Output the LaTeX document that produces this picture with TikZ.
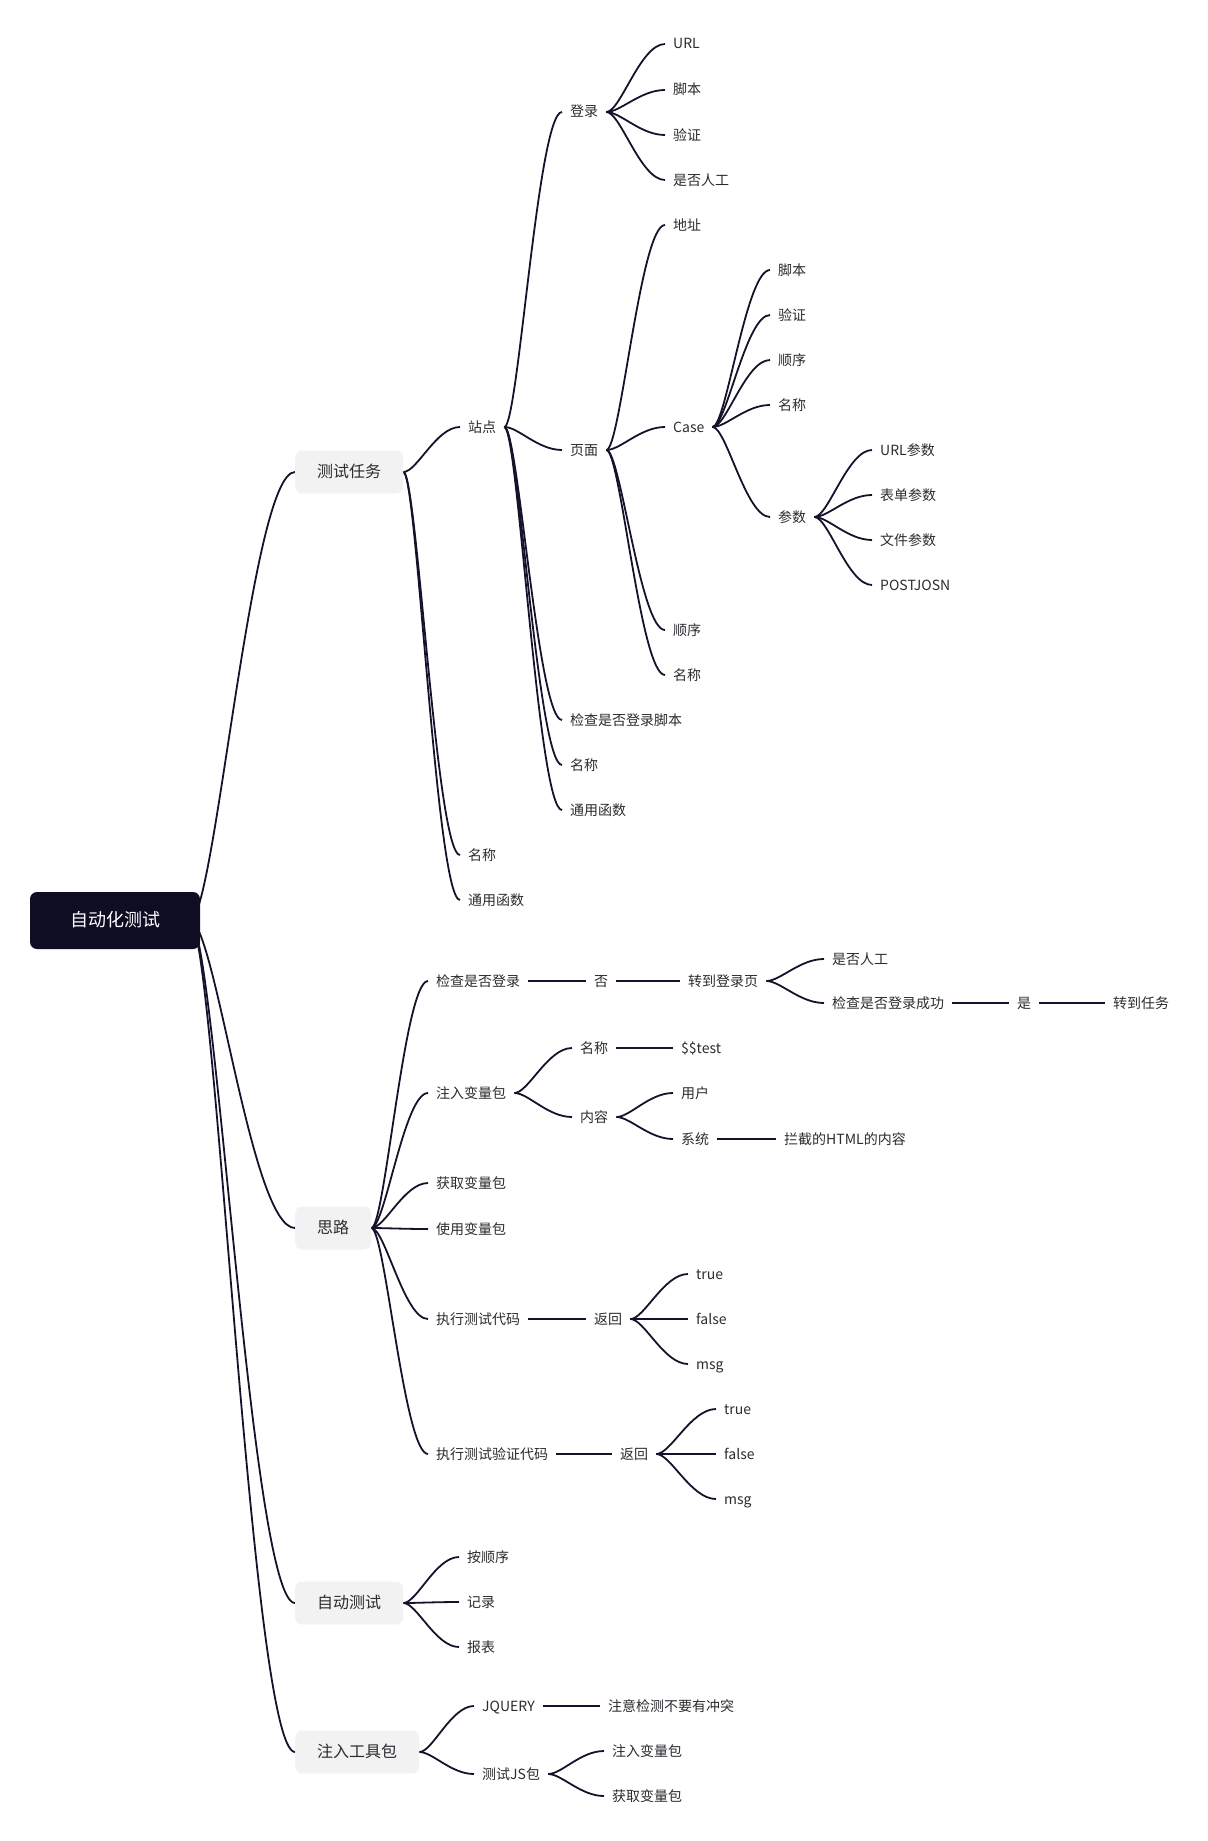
\documentclass[tikz,border=0pt]{standalone}
\usepackage{fontspec}
\setmainfont{Noto Sans CJK SC}
\usetikzlibrary{calc,backgrounds}

\definecolor{inkline}{HTML}{14132B}
\definecolor{inktext}{HTML}{2B2B30}
\definecolor{rootfill}{HTML}{0F0D23}
\definecolor{topicfill}{HTML}{F2F2F3}

\tikzset{
  link/.style={draw=inkline, line width=1.8pt},
  branch/.style={to path={let \p1=(\tikztostart), \p2=(\tikztotarget) in
      .. controls ({\x1+0.24*(\x2-\x1)},\y1) and ({\x1+0.58*(\x2-\x1)},\y2) .. (\tikztotarget)}},
  leaf/.style={anchor=west, inner xsep=8pt, inner ysep=2pt, text=inktext,
      font=\fontsize{14}{17}\selectfont, text height=12pt, text depth=2pt},
  topic/.style={anchor=west, fill=topicfill, rounded corners=7pt, inner xsep=22pt,
      minimum height=43pt, text=inktext, font=\fontsize{16}{19}\selectfont,
      text height=13pt, text depth=2.5pt},
  central/.style={fill=rootfill, rounded corners=7pt, inner xsep=40pt,
      minimum height=57pt, text=white, font=\fontsize{18}{21}\selectfont,
      text height=15pt, text depth=3pt},
}

\begin{document}
\begin{tikzpicture}[x=1pt,y=-1pt]
  \useasboundingbox (0,0) rectangle (1207,1841);

  %% root
  \node[central] (root) at (115,920.5) {自动化测试};
  \coordinate (rootout) at (190,920.5);

  %% main topics
  \node[topic] (task) at (295,472) {测试任务};
  \node[topic] (idea) at (295,1228) {思路};
  \node[topic] (auto) at (295,1603) {自动测试};
  \node[topic] (tool) at (295,1752) {注入工具包};

  %% 测试任务
  \node[leaf] (site) at (460,427) {站点};
  \node[leaf] (tname) at (460,855) {名称};
  \node[leaf] (tfunc) at (460,900) {通用函数};

  \node[leaf] (login) at (562,112) {登录};
  \node[leaf] (page) at (562,450) {页面};
  \node[leaf] (chkscript) at (562,720) {检查是否登录脚本};
  \node[leaf] (sname) at (562,765) {名称};
  \node[leaf] (sfunc) at (562,810) {通用函数};

  \node[leaf] (lurl) at (665,44) {URL};
  \node[leaf] (lscript) at (665,90) {脚本};
  \node[leaf] (lverify) at (665,135) {验证};
  \node[leaf] (lmanual) at (665,180) {是否人工};

  \node[leaf] (paddr) at (665,225) {地址};
  \node[leaf] (pcase) at (665,427) {Case};
  \node[leaf] (porder) at (665,630) {顺序};
  \node[leaf] (pname) at (665,675) {名称};

  \node[leaf] (cscript) at (770,270) {脚本};
  \node[leaf] (cverify) at (770,315) {验证};
  \node[leaf] (corder) at (770,360) {顺序};
  \node[leaf] (cname) at (770,405) {名称};
  \node[leaf] (cparam) at (770,517) {参数};

  \node[leaf] (purl) at (872,450) {URL参数};
  \node[leaf] (pform) at (872,495) {表单参数};
  \node[leaf] (pfile) at (872,540) {文件参数};
  \node[leaf] (ppost) at (872,585) {POSTJOSN};

  %% 思路
  \node[leaf] (chk) at (428,981) {检查是否登录};
  \node[leaf] (inject) at (428,1093) {注入变量包};
  \node[leaf] (fetch) at (428,1183) {获取变量包};
  \node[leaf] (use) at (428,1229) {使用变量包};
  \node[leaf] (run) at (428,1319) {执行测试代码};
  \node[leaf] (runv) at (428,1454) {执行测试验证代码};

  \node[leaf] (no) at (586,981) {否};
  \node[leaf] (gologin) at (680,981) {转到登录页};
  \node[leaf] (manual) at (824,959) {是否人工};
  \node[leaf] (chkok) at (824,1003) {检查是否登录成功};
  \node[leaf] (yes) at (1009,1003) {是};
  \node[leaf] (gotask) at (1105,1003) {转到任务};

  \node[leaf] (iname) at (572,1048) {名称};
  \node[leaf] (itest) at (673,1048) {\$\$test};
  \node[leaf] (icontent) at (572,1117) {内容};
  \node[leaf] (iuser) at (673,1093) {用户};
  \node[leaf] (isys) at (673,1139) {系统};
  \node[leaf] (ihtml) at (776,1139) {拦截的HTML的内容};

  \node[leaf] (ret) at (586,1319) {返回};
  \node[leaf] (rtrue) at (688,1274) {true};
  \node[leaf] (rfalse) at (688,1319) {false};
  \node[leaf] (rmsg) at (688,1364) {msg};

  \node[leaf] (retv) at (612,1454) {返回};
  \node[leaf] (vtrue) at (716,1409) {true};
  \node[leaf] (vfalse) at (716,1454) {false};
  \node[leaf] (vmsg) at (716,1499) {msg};

  %% 自动测试
  \node[leaf] (aorder) at (459,1557) {按顺序};
  \node[leaf] (arecord) at (459,1602) {记录};
  \node[leaf] (areport) at (459,1647) {报表};

  %% 注入工具包
  \node[leaf] (jq) at (474,1706) {JQUERY};
  \node[leaf] (jqnote) at (600,1706) {注意检测不要有冲突};
  \node[leaf] (jspkg) at (474,1774) {测试JS包};
  \node[leaf] (jsinject) at (604,1751) {注入变量包};
  \node[leaf] (jsfetch) at (604,1796) {获取变量包};

  \begin{scope}[on background layer]
    %% root links
    \draw[link] (rootout) to[branch] (task.west);
    \draw[link] (rootout) to[branch] (idea.west);
    \draw[link] (rootout) to[branch] (auto.west);
    \draw[link] (rootout) to[branch] (tool.west);

    %% 测试任务 links
    \draw[link] (task.east) to[branch] (site.west);
    \draw[link] (task.east) to[branch] (tname.west);
    \draw[link] (task.east) to[branch] (tfunc.west);

    \draw[link] (site.east) to[branch] (login.west);
    \draw[link] (site.east) to[branch] (page.west);
    \draw[link] (site.east) to[branch] (chkscript.west);
    \draw[link] (site.east) to[branch] (sname.west);
    \draw[link] (site.east) to[branch] (sfunc.west);

    \draw[link] (login.east) to[branch] (lurl.west);
    \draw[link] (login.east) to[branch] (lscript.west);
    \draw[link] (login.east) to[branch] (lverify.west);
    \draw[link] (login.east) to[branch] (lmanual.west);

    \draw[link] (page.east) to[branch] (paddr.west);
    \draw[link] (page.east) to[branch] (pcase.west);
    \draw[link] (page.east) to[branch] (porder.west);
    \draw[link] (page.east) to[branch] (pname.west);

    \draw[link] (pcase.east) to[branch] (cscript.west);
    \draw[link] (pcase.east) to[branch] (cverify.west);
    \draw[link] (pcase.east) to[branch] (corder.west);
    \draw[link] (pcase.east) to[branch] (cname.west);
    \draw[link] (pcase.east) to[branch] (cparam.west);

    \draw[link] (cparam.east) to[branch] (purl.west);
    \draw[link] (cparam.east) to[branch] (pform.west);
    \draw[link] (cparam.east) to[branch] (pfile.west);
    \draw[link] (cparam.east) to[branch] (ppost.west);

    %% 思路 links
    \draw[link] (idea.east) to[branch] (chk.west);
    \draw[link] (idea.east) to[branch] (inject.west);
    \draw[link] (idea.east) to[branch] (fetch.west);
    \draw[link] (idea.east) to[branch] (use.west);
    \draw[link] (idea.east) to[branch] (run.west);
    \draw[link] (idea.east) to[branch] (runv.west);

    \draw[link] (chk.east) -- (no.west);
    \draw[link] (no.east) -- (gologin.west);
    \draw[link] (gologin.east) to[branch] (manual.west);
    \draw[link] (gologin.east) to[branch] (chkok.west);
    \draw[link] (chkok.east) -- (yes.west);
    \draw[link] (yes.east) -- (gotask.west);

    \draw[link] (inject.east) to[branch] (iname.west);
    \draw[link] (inject.east) to[branch] (icontent.west);
    \draw[link] (iname.east) -- (itest.west);
    \draw[link] (icontent.east) to[branch] (iuser.west);
    \draw[link] (icontent.east) to[branch] (isys.west);
    \draw[link] (isys.east) -- (ihtml.west);

    \draw[link] (run.east) -- (ret.west);
    \draw[link] (ret.east) to[branch] (rtrue.west);
    \draw[link] (ret.east) -- (rfalse.west);
    \draw[link] (ret.east) to[branch] (rmsg.west);

    \draw[link] (runv.east) -- (retv.west);
    \draw[link] (retv.east) to[branch] (vtrue.west);
    \draw[link] (retv.east) -- (vfalse.west);
    \draw[link] (retv.east) to[branch] (vmsg.west);

    %% 自动测试 links
    \draw[link] (auto.east) to[branch] (aorder.west);
    \draw[link] (auto.east) to[branch] (arecord.west);
    \draw[link] (auto.east) to[branch] (areport.west);

    %% 注入工具包 links
    \draw[link] (tool.east) to[branch] (jq.west);
    \draw[link] (tool.east) to[branch] (jspkg.west);
    \draw[link] (jq.east) -- (jqnote.west);
    \draw[link] (jspkg.east) to[branch] (jsinject.west);
    \draw[link] (jspkg.east) to[branch] (jsfetch.west);
  \end{scope}

\end{tikzpicture}
\end{document}
